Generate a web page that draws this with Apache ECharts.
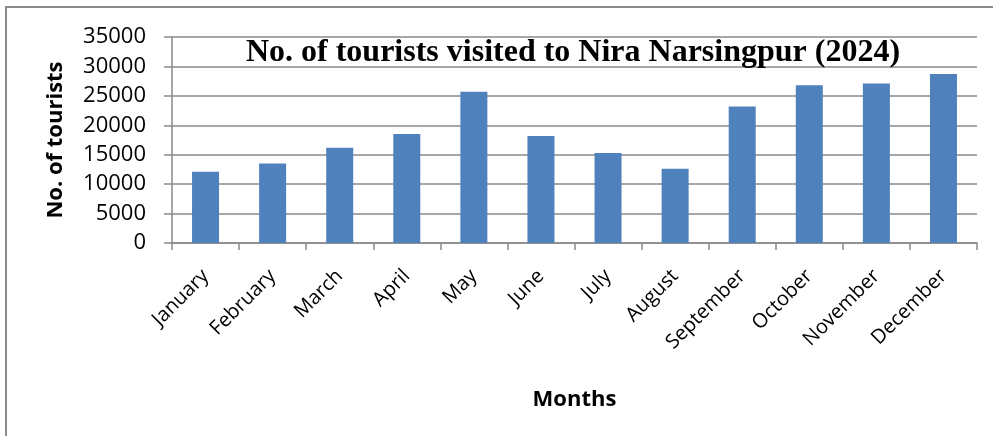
<!DOCTYPE html>
<html>
<head>
<meta charset="utf-8">
<script src="https://cdn.jsdelivr.net/npm/echarts@6/dist/echarts.min.js"></script>
<style>html,body{margin:0;padding:0;background:#fff;}#c{width:993px;height:436px;}</style>
</head>
<body>
<div id="c"></div>
<script>
const months = ['January','February','March','April','May','June','July','August','September','October','November','December'];
const tourists = [12100, 13500, 16200, 18500, 25700, 18200, 15300, 12600, 23200, 26800, 27100, 28700];
const yTicks = [0, 5000, 10000, 15000, 20000, 25000, 30000, 35000];
const titleText = 'No. of tourists visited to Nira Narsingpur (2024)';

const chart = echarts.init(document.getElementById('c'), null, {renderer: 'canvas'});
chart.setOption({
  animation: false,
  backgroundColor: '#fff',
  graphic: [{
    type: 'polyline',
    shape: {points: [[6, 440], [6, 7], [1000, 7]]},
    style: {stroke: '#8a8a8a', lineWidth: 2, fill: null}
  }],
  title: {
    text: titleText,
    left: 568, top: 32, textAlign: 'center',
    textStyle: {fontFamily: 'Liberation Serif', fontWeight: 'bold', fontSize: 32, color: '#000'}
  },
  grid: {left: 172, right: 16, top: 37, bottom: 193},
  xAxis: {
    type: 'category',
    data: months,
    name: 'Months',
    nameLocation: 'middle',
    nameGap: 146,
    nameTextStyle: {fontFamily: 'Open Sans', fontWeight: 'bold', fontSize: 22, color: '#000'},
    axisLine: {lineStyle: {color: '#8a8a8a', width: 1.5}},
    axisTick: {show: true, length: 7, alignWithLabel: false, lineStyle: {color: '#8a8a8a', width: 1.5}},
    axisLabel: {rotate: 45, margin: 30, interval: 0, fontFamily: 'Open Sans', fontSize: 20, color: '#000'}
  },
  yAxis: {
    type: 'value',
    min: yTicks[0], max: yTicks[yTicks.length - 1], interval: yTicks[1] - yTicks[0],
    name: 'No. of tourists',
    nameLocation: 'middle',
    nameGap: 105,
    nameTextStyle: {fontFamily: 'Open Sans', fontWeight: 'bold', fontSize: 22, color: '#000'},
    axisLine: {show: true, lineStyle: {color: '#8a8a8a', width: 1.5}},
    axisTick: {show: true, length: 8, lineStyle: {color: '#8a8a8a', width: 1.5}},
    axisLabel: {margin: 26, fontFamily: 'Open Sans', fontSize: 22, color: '#000', formatter: v => String(v)},
    splitLine: {show: true, lineStyle: {color: '#8a8a8a', width: 1.5}}
  },
  series: [{
    type: 'bar',
    data: tourists,
    barWidth: 27,
    itemStyle: {color: '#4F81BD'}
  }]
});
</script>
</body>
</html>
